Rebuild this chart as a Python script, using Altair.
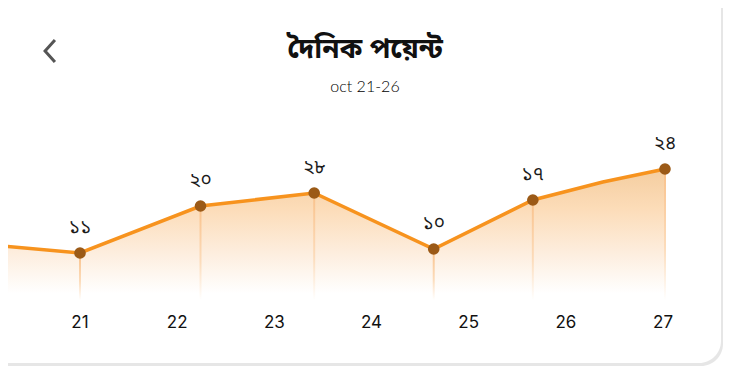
import altair as alt
import pandas as pd

# ---- data ----
line_days = [20.19, 21.0, 22.24, 23.41, 24.64, 25.66, 26.38, 27.02]
line_vals = [54, 47, 94, 107, 51, 100, 118, 131]
point_days = [21.0, 22.24, 23.41, 24.64, 25.66, 27.02]
point_vals = [47, 94, 107, 51, 100, 131]
point_labels = ["১১", "২০", "২৮", "১০", "১৭", "২৪"]
tick_days = [21, 22, 23, 24, 25, 26, 27]
title_text = "দৈনিক পয়েন্ট"
subtitle_text = "oct 21-26"

W, H = 715, 358
BN_FONT = "Noto Sans Bengali, Lohit Bengali, Kalpurush, SolaimanLipi, FreeSans, sans-serif"

line_df = pd.DataFrame({"day": line_days, "val": line_vals})
pt_df = pd.DataFrame({"day": point_days, "val": point_vals, "lab": point_labels, "base": [0] * len(point_days)})
tick_df = pd.DataFrame({"day": tick_days, "lab": [str(d) for d in tick_days]})

xs = alt.Scale(domain=[20.259, 27.617], nice=False, zero=False, padding=0)
ys = alt.Scale(domain=[-66, 292], nice=False, zero=False, padding=0)
X = alt.X("day:Q", scale=xs, axis=None)
Y = alt.Y("val:Q", scale=ys, axis=None)

one = pd.DataFrame({"k": [0]})

# card with shadow
shadow = alt.Chart(one).mark_rect(cornerRadius=22, fill="#e6e6e6").encode(
    x=alt.value(-30), x2=alt.value(W), y=alt.value(-30), y2=alt.value(H)
)
card = alt.Chart(one).mark_rect(cornerRadius=22, fill="#ffffff").encode(
    x=alt.value(-30), x2=alt.value(W - 2), y=alt.value(-30), y2=alt.value(H - 3)
)

area = alt.Chart(line_df).mark_area(
    clip=True,
    fill=alt.Gradient(
        gradient="linear", x1=0, y1=0, x2=0, y2=1,
        stops=[
            alt.GradientStop(offset=0, color="#f4cd9f"),
            alt.GradientStop(offset=0.3, color="#fcdcb8"),
            alt.GradientStop(offset=0.65, color="#fdeedf"),
            alt.GradientStop(offset=0.95, color="#ffffff"),
        ],
    ),
).encode(x=X, y=Y, y2=alt.Y2(datum=0))

drops = alt.Chart(pt_df).mark_bar(
    width=2,
    fill=alt.Gradient(
        gradient="linear", x1=0, y1=0, x2=0, y2=1,
        stops=[
            alt.GradientStop(offset=0, color="#f9c18a"),
            alt.GradientStop(offset=0.6, color="#fcdcbb"),
            alt.GradientStop(offset=1, color="#ffffff"),
        ],
    ),
).encode(x=X, y=Y, y2="base:Q")

line = alt.Chart(line_df).mark_line(clip=True, color="#f7931e", strokeWidth=3.5).encode(x=X, y=Y)

points = alt.Chart(pt_df).mark_circle(size=135, color="#9b5a17", opacity=1).encode(x=X, y=Y)

labels = alt.Chart(pt_df).mark_text(
    font=BN_FONT, fontSize=19, color="#1a1a1a", baseline="middle", dy=-26
).encode(x=X, y=Y, text="lab:N")

ticks = alt.Chart(tick_df).mark_text(
    font="Inter", fontSize=17, color="#111111", baseline="middle"
).encode(x=X, y=alt.value(315), text="lab:N")

title = alt.Chart(one).mark_text(
    text=title_text, font=BN_FONT, fontSize=28, fontWeight="bold", color="#111111", baseline="middle"
).encode(x=alt.value(357), y=alt.value(42))

subtitle = alt.Chart(one).mark_text(
    text=subtitle_text, font="Lato", fontSize=16, fontWeight=300, color="#000000", baseline="middle"
).encode(x=alt.value(357), y=alt.value(79))

back = alt.Chart(one).mark_point(
    shape="M0.45,-1L-0.45,0L0.45,1", filled=False, stroke="#555555", strokeWidth=3, size=480, opacity=1
).encode(x=alt.value(42), y=alt.value(43))

chart = alt.layer(
    shadow, card, area, drops, line, points, labels, ticks, title, subtitle, back
).properties(
    width=W, height=H, padding=0,
    autosize=alt.AutoSizeParams(type="none"),
).configure_view(stroke=None)

chart.save("out.html", embed_options={"renderer": "svg", "actions": False})
